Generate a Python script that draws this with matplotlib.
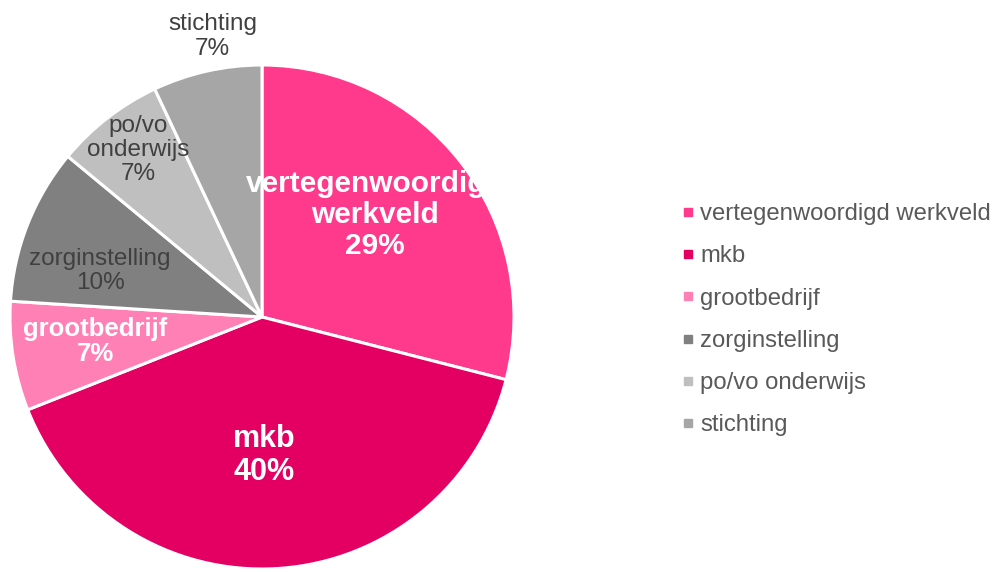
import matplotlib
matplotlib.use("Agg")
import matplotlib.pyplot as plt
import numpy as np
from matplotlib.lines import Line2D

plt.rcParams['font.family'] = ['Liberation Sans', 'DejaVu Sans']

# data
labels = ["vertegenwoordigd werkveld", "mkb", "grootbedrijf", "zorginstelling", "po/vo onderwijs", "stichting"]
label_lines = ["vertegenwoordigd\nwerkveld", "mkb", "grootbedrijf", "zorginstelling", "po/vo\nonderwijs", "stichting"]
values = [29, 40, 7, 10, 7, 7]

colors = ["#FF3A8C", "#E30062", "#FF80B5", "#808080", "#BFBFBF", "#A6A6A6"]
text_colors = ["white", "white", "white", "#404040", "#404040", "#404040"]
bold = [True, True, True, False, False, False]
sizes = [21.5, 22, 18.5, 17.5, 17.5, 17.5]
spacing = [1.12, 1.12, 1.05, 1.12, 1.13, 1.13]
dists = [0.604, 0.55, 0.67, 0.668, 0.826, 1.13]
ang_off = [4.3, -2.6, -0.5, 5.6, -1.2, -2.6]

fig = plt.figure(figsize=(9.99, 5.72), dpi=100)
ax = fig.add_axes([10 / 999, 3 / 572, 504 / 999, 504 / 572])

wedges, _ = ax.pie(values, colors=colors, startangle=90, counterclock=False,
                   radius=1, wedgeprops=dict(edgecolor="white", linewidth=2.2))
ax.set_xlim(-1, 1)
ax.set_ylim(-1, 1)
ax.set_aspect("equal")
ax.axis("off")

total = sum(values)
for i, w in enumerate(wedges):
    mid = np.deg2rad((w.theta1 + w.theta2) / 2 + ang_off[i])
    x = dists[i] * np.cos(mid)
    y = dists[i] * np.sin(mid)
    pct = round(values[i] / total * 100)
    t = ax.text(x, y, f"{label_lines[i]}\n{pct}%", ha="center", va="center",
                color=text_colors[i], fontsize=sizes[i],
                fontweight="bold" if bold[i] else "normal", linespacing=spacing[i])
    if i == 0:
        t.set_clip_path(w)

handles = [Line2D([0], [0], marker="s", linestyle="none", markersize=6,
                  markerfacecolor=c, markeredgecolor=c) for c in colors]
leg = fig.legend(handles, labels, loc="upper left", bbox_to_anchor=(670 / 999, 1 - 191 / 572),
                 frameon=False, fontsize=17.2, labelspacing=0.85, handlelength=0.5,
                 handletextpad=0.27, borderpad=0)
for t in leg.get_texts():
    t.set_color("#595959")

fig.savefig("out.png", dpi=100)
